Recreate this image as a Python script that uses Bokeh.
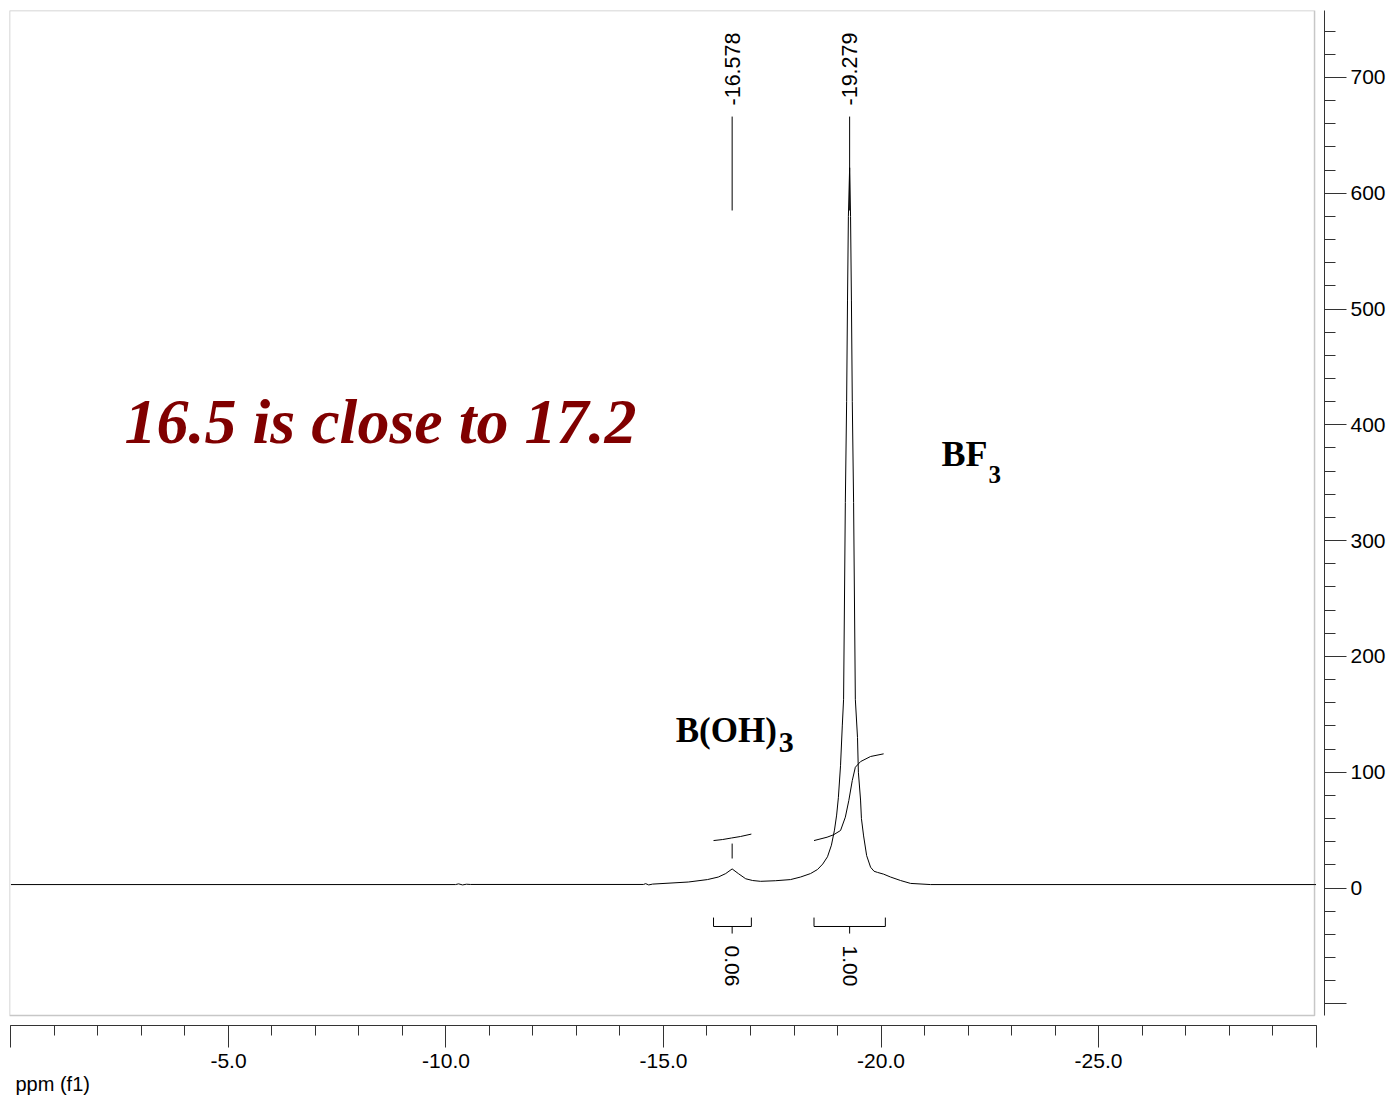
import math
from bokeh.plotting import figure
from bokeh.models import Range1d, FixedTicker, CustomJSTickFormatter, BoxAnnotation, Label, Title
from bokeh.embed import file_html
from bokeh.resources import INLINE
from bokeh.core.properties import value

# ---- spectrum trace (ppm, intensity) ----
ppm = [0.0, -10.22, -10.29, -10.38, -10.47, -10.56, -14.54, -14.59, -14.66, -14.75,
       -15.57, -16.01, -16.26, -16.43, -16.578, -16.72, -16.89, -17.05, -17.23, -17.57,
       -17.92, -18.15, -18.38, -18.54, -18.66, -18.77, -18.86, -18.93, -18.98, -19.02,
       -19.07, -19.11, -19.14, -19.16, -19.18, -19.21, -19.23, -19.25, -19.279, -19.30,
       -19.32, -19.34, -19.37, -19.39, -19.41, -19.46, -19.48, -19.53, -19.55, -19.60,
       -19.67, -19.76, -19.84, -19.92, -20.06, -20.22, -20.45, -20.68, -21.14, -30.0]
intensity = [3.0, 3.0, 3.6, 2.7, 3.3, 3.1, 3.1, 3.8, 2.7, 3.4,
             5.2, 7.3, 9.5, 12.5, 16.5, 12.5, 8.0, 6.5, 5.8, 6.3,
             7.3, 9.5, 12.5, 16.0, 20.7, 27.0, 37.0, 50.0, 63.0, 78.0,
             106.0, 140.0, 163.0, 247.0, 333.0, 420.0, 507.0, 580.0, 622.0, 580.0,
             507.0, 420.0, 333.0, 247.0, 163.0, 130.0, 100.0, 76.0, 60.0, 45.0,
             28.0, 18.0, 14.5, 13.5, 12.0, 9.5, 6.5, 4.0, 3.0, 3.0]

# ---- peak picks ----
peak_ppm = [-16.578, -19.279]
peak_labels = ["-16.578", "-19.279"]

# ---- integrals ----
int1_ppm = [-16.15, -16.36, -16.56, -16.77, -17.02]
int1_val = [41.0, 41.9, 43.2, 44.5, 46.6]
int2_ppm = [-18.46, -18.76, -18.91, -19.07, -19.18, -19.26, -19.34, -19.41, -19.53, -19.76, -20.06]
int2_val = [41.0, 43.9, 46.0, 49.7, 61.2, 75.6, 92.9, 104.3, 109.2, 113.6, 115.9]
int_start = [-16.15, -18.46]
int_end = [-17.02, -20.10]
int_center = [-16.578, -19.279]
int_labels = ["0.06", "1.00"]

# ---- axis ticks ----
x_major = [0, -5, -10, -15, -20, -25, -30]
x_minor = [-v for v in range(0, 31)]
y_major = [-100, 0, 100, 200, 300, 400, 500, 600, 700]
y_minor = list(range(-100, 741, 20))

X0, X1 = 0.034, -30.195
Y0, Y1 = -118.7, 757.8
BOX_RIGHT = -29.966
BOX_BOTTOM = -110.1

p = figure(width=1392, height=1101, output_backend="svg", toolbar_location=None,
           x_range=Range1d(X0, X1), y_range=Range1d(Y0, Y1),
           y_axis_location="right", min_border_left=9, min_border_right=68,
           min_border_top=10, min_border_bottom=76)
p.outline_line_color = None
p.xgrid.visible = False
p.ygrid.visible = False
p.background_fill_color = "white"
p.border_fill_color = "white"

FONT = "Liberation Sans"

xa = p.xaxis[0]
xa.ticker = FixedTicker(ticks=x_major, minor_ticks=x_minor)
xa.formatter = CustomJSTickFormatter(code="return (tick == 0 || tick == -30) ? '' : tick.toFixed(1);")
xa.bounds = (-30.0, 0.0)
xa.axis_line_color = "#333333"
xa.major_tick_line_color = "#333333"
xa.minor_tick_line_color = "#333333"
xa.major_tick_in = 0
xa.major_tick_out = 22
xa.minor_tick_in = 0
xa.minor_tick_out = 10
xa.major_label_standoff = 6
xa.major_label_text_font = FONT
xa.major_label_text_font_size = "21px"
xa.major_label_text_color = "black"

ya = p.yaxis[0]
ya.ticker = FixedTicker(ticks=y_major, minor_ticks=y_minor)
ya.formatter = CustomJSTickFormatter(code="return tick == -100 ? '' : tick.toFixed(0);")
ya.bounds = (BOX_BOTTOM, Y1)
ya.axis_line_color = "#333333"
ya.major_tick_line_color = "#333333"
ya.minor_tick_line_color = "#333333"
ya.major_tick_in = 0
ya.major_tick_out = 22
ya.minor_tick_in = 0
ya.minor_tick_out = 11
ya.major_label_standoff = 4
ya.major_label_text_font = FONT
ya.major_label_text_font_size = "21px"
ya.major_label_text_color = "black"
ya.major_label_orientation = "horizontal"

# axis caption below the x axis
p.add_layout(Title(text="ppm (f1)", align="left", text_font=FONT, text_font_size="20px",
                   text_font_style="normal", text_color="black", offset=6, standoff=0), "below")

# inner frame box
p.add_layout(BoxAnnotation(left=X0, right=BOX_RIGHT, top=Y1, bottom=BOX_BOTTOM,
                           fill_alpha=0, line_color="#444444", line_width=1.5))

# spectrum
p.line(ppm, intensity, line_color="black", line_width=1)

# integral curves
p.line(int1_ppm, int1_val, line_color="black", line_width=1)
p.line(int2_ppm, int2_val, line_color="black", line_width=1)

# integral brackets
bx, by = [], []
for s, e, c in zip(int_start, int_end, int_center):
    bx.append([s, s, e, e]); by.append([-25.5, -33.2, -33.2, -25.5])
    bx.append([c, c]); by.append([-33.2, -39.3])
p.multi_line(bx, by, line_color="black", line_width=1)
p.text(x=int_center, y=[-49.7] * len(int_center), text=int_labels, angle=-math.pi / 2,
       text_align="left", text_baseline="middle", text_font=value(FONT),
       text_font_size="21px", text_color="black")

# peak label lines & labels
p.segment(x0=peak_ppm, y0=[585.1] * 2, x1=peak_ppm, y1=[666.2] * 2, line_color="black", line_width=1)
p.segment(x0=[peak_ppm[0]], y0=[25.5], x1=[peak_ppm[0]], y1=[38.4], line_color="black", line_width=1)
p.text(x=peak_ppm, y=[675.8] * 2, text=peak_labels, angle=math.pi / 2,
       text_align="left", text_baseline="middle", text_font=value(FONT),
       text_font_size="21.5px", text_color="black")

# annotations
p.add_layout(Label(x=-2.61, y=402.9, text="16.5 is close to 17.2", text_font="Liberation Serif",
                   text_font_style="bold italic", text_font_size="64px", text_color="#800000",
                   text_align="left", text_baseline="alphabetic"))
p.add_layout(Label(x=-21.39, y=374.4, text="BF", text_font="Liberation Serif",
                   text_font_style="bold", text_font_size="36px", text_color="black",
                   text_align="left", text_baseline="alphabetic"))
p.add_layout(Label(x=-22.47, y=357.0, text="3", text_font="Liberation Serif",
                   text_font_style="bold", text_font_size="25px", text_color="black",
                   text_align="left", text_baseline="alphabetic"))
p.add_layout(Label(x=-15.28, y=136.3, text="B(OH)", text_font="Liberation Serif",
                   text_font_style="bold", text_font_size="35px", text_color="black",
                   text_align="left", text_baseline="alphabetic"))
p.add_layout(Label(x=-17.65, y=125.5, text="3", text_font="Liberation Serif",
                   text_font_style="bold", text_font_size="30px", text_color="black",
                   text_align="left", text_baseline="alphabetic"))

open("out.html", "w").write(file_html(p, INLINE))
